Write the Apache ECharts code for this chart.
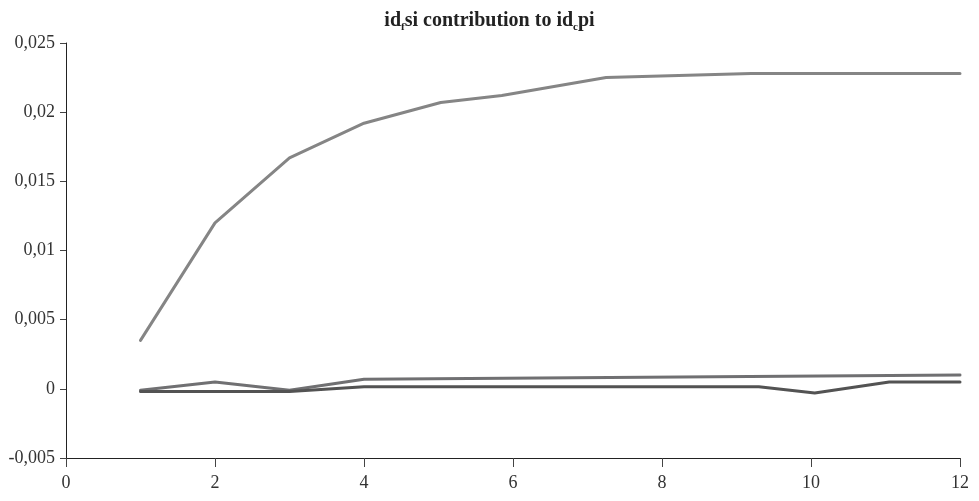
<!DOCTYPE html>
<html>
<head>
<meta charset="utf-8">
<script src="https://cdn.jsdelivr.net/npm/echarts@6/dist/echarts.min.js"></script>
<style>
  html, body { margin: 0; padding: 0; background: #fff; }
  #chart { width: 979px; height: 501px; }
</style>
</head>
<body>
<div id="chart"></div>
<script>
// Horizon (x) and contribution (y) for each response line
const upperX = [1, 2, 3, 4, 5.03, 5.85, 7.25, 9.2, 12];
const upperY = [0.0035, 0.012, 0.0167, 0.0192, 0.0207, 0.0212, 0.0225, 0.0228, 0.0228];

const midX = [1, 2, 3, 4, 12];
const midY = [-0.0001, 0.0005, -0.0001, 0.0007, 0.001];

const lowX = [1, 3, 4, 9.3, 10.05, 11.05, 12];
const lowY = [-0.0002, -0.0002, 0.00015, 0.00015, -0.0003, 0.0005, 0.0005];

const xTicks = [0, 2, 4, 6, 8, 10, 12];
const yTickLabels = ['-0,005', '0', '0,005', '0,01', '0,015', '0,02', '0,025'];
const yMin = -0.005, yStep = 0.005;

const pairs = (xs, ys) => xs.map((x, i) => [x, ys[i]]);

const font = '"Liberation Serif", serif';
const chart = echarts.init(document.getElementById('chart'));

chart.setOption({
  animation: false,
  title: {
    text: '{t|id}{s|f}{t|si contribution to id}{s|c}{t|pi}',
    left: 'center',
    top: 3,
    textStyle: {
      rich: {
        t: { fontFamily: font, fontWeight: 'bold', fontSize: 20, color: '#222' },
        s: { fontFamily: font, fontWeight: 'bold', fontSize: 11, color: '#222', padding: [14, 0, 0, 0] }
      }
    }
  },
  grid: { left: 66, right: 19, top: 43, bottom: 43 },
  xAxis: {
    type: 'value',
    min: xTicks[0],
    max: xTicks[xTicks.length - 1],
    interval: 2,
    splitLine: { show: false },
    axisLine: { onZero: false, lineStyle: { color: '#222', width: 1 } },
    axisTick: { show: true, length: 9, lineStyle: { color: '#444' } },
    axisLabel: { fontFamily: font, fontSize: 18, color: '#333', margin: 16 }
  },
  yAxis: {
    type: 'value',
    min: yMin,
    max: 0.025,
    interval: yStep,
    splitLine: { show: false },
    axisLine: { show: true, onZero: false, lineStyle: { color: '#222', width: 1 } },
    axisTick: { show: true, length: 6, lineStyle: { color: '#444' } },
    axisLabel: {
      fontFamily: font, fontSize: 18, color: '#333', margin: 11,
      formatter: v => yTickLabels[Math.round((v - yMin) / yStep)]
    }
  },
  series: [
    {
      type: 'line', data: pairs(upperX, upperY), symbol: 'none',
      lineStyle: { color: '#858585', width: 3, cap: 'round', join: 'round' }
    },
    {
      type: 'line', data: pairs(midX, midY), symbol: 'none',
      lineStyle: { color: '#707072', width: 3, cap: 'round', join: 'round' }
    },
    {
      type: 'line', data: pairs(lowX, lowY), symbol: 'none',
      lineStyle: { color: '#535353', width: 3, cap: 'round', join: 'round' }
    }
  ]
});
</script>
</body>
</html>
